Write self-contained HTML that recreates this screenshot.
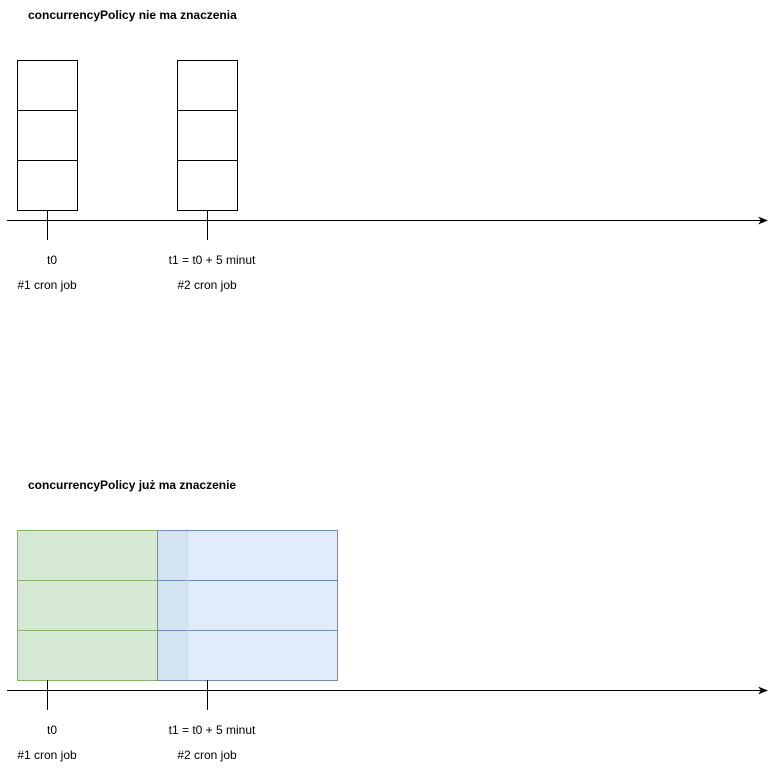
<!DOCTYPE html>
<html><head><meta charset="utf-8"><style>
html,body{margin:0;padding:0;background:#fff}
svg{display:block}
text{font-family:"Liberation Sans",Arial,sans-serif;font-size:12px;fill:#000}
.b{font-weight:bold}
</style></head><body>
<svg width="776" height="771" viewBox="0 0 776 771">
<defs><marker id="ar" markerWidth="10" markerHeight="8" refX="9" refY="4" orient="auto" markerUnits="userSpaceOnUse"><path d="M0,0 L10,4 L0,8 L3,4 Z" fill="#000"/></marker></defs>
<g>
<text class="b" x="28" y="19">concurrencyPolicy nie ma znaczenia</text>
<g fill="#fff" stroke="#000" stroke-width="1">
<rect x="17.5" y="60.5" width="60" height="50"/><rect x="17.5" y="110.5" width="60" height="50"/><rect x="17.5" y="160.5" width="60" height="50"/></g>
<g fill="#fff" stroke="#000" stroke-width="1">
<rect x="177.5" y="60.5" width="60" height="50"/><rect x="177.5" y="110.5" width="60" height="50"/><rect x="177.5" y="160.5" width="60" height="50"/></g>
<line x1="7" y1="220.5" x2="767" y2="220.5" stroke="#000" marker-end="url(#ar)"/>
<line x1="47.5" y1="210" x2="47.5" y2="240" stroke="#000"/>
<line x1="207.5" y1="210" x2="207.5" y2="240" stroke="#000"/>
<text x="52" y="264" text-anchor="middle">t0</text>
<text x="212" y="264" text-anchor="middle">t1 = t0 + 5 minut</text>
<text x="47" y="289" text-anchor="middle">#1 cron job</text>
<text x="207" y="289" text-anchor="middle">#2 cron job</text>
</g>
<g>
<text class="b" x="28" y="489">concurrencyPolicy już ma znaczenie</text>
<g fill="#d5e8d4" stroke="#82b366" stroke-width="1">
<rect x="17.5" y="530.5" width="140" height="50"/><rect x="17.5" y="580.5" width="140" height="50"/><rect x="17.5" y="630.5" width="140" height="50"/></g>
<g fill="#dae8fc" fill-opacity="0.85" stroke="#6c8ebf" stroke-width="1">
<rect x="157.5" y="530.5" width="180" height="50"/><rect x="157.5" y="580.5" width="180" height="50"/><rect x="157.5" y="630.5" width="180" height="50"/></g>
<rect x="158" y="531" width="30" height="149" fill="#d3e3f0"/>
<line x1="157.5" y1="580.5" x2="188" y2="580.5" stroke="#6c8ebf"/><line x1="157.5" y1="630.5" x2="188" y2="630.5" stroke="#6c8ebf"/>
<line x1="187.5" y1="531" x2="187.5" y2="680" stroke="#c6dbe6"/>
<line x1="7" y1="690.5" x2="767" y2="690.5" stroke="#000" marker-end="url(#ar)"/>
<line x1="47.5" y1="680" x2="47.5" y2="710" stroke="#000"/>
<line x1="207.5" y1="680" x2="207.5" y2="710" stroke="#000"/>
<text x="52" y="734" text-anchor="middle">t0</text>
<text x="212" y="734" text-anchor="middle">t1 = t0 + 5 minut</text>
<text x="47" y="759" text-anchor="middle">#1 cron job</text>
<text x="207" y="759" text-anchor="middle">#2 cron job</text>
</g>
</svg>
</body></html>
